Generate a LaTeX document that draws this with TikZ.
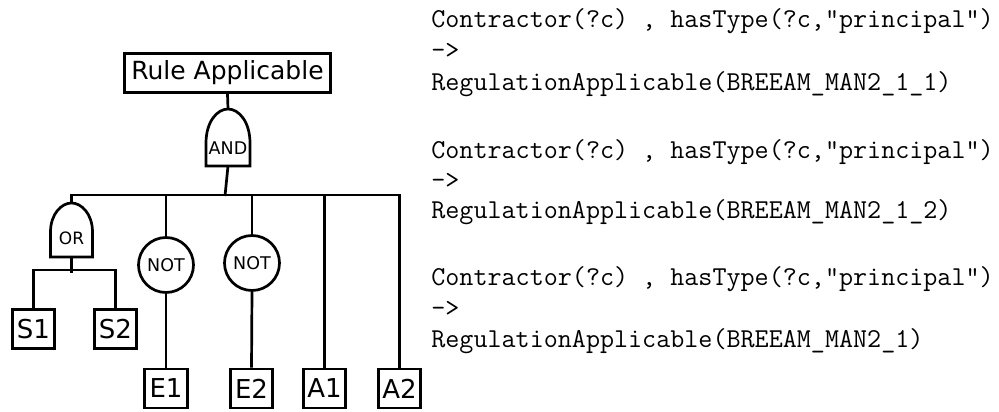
\documentclass[tikz,border=0pt]{standalone}
\usepackage{fontspec}
\setsansfont{DejaVu Sans}
\usetikzlibrary{calc}
\begin{document}
\begin{tikzpicture}[x=1pt,y=-1pt,line width=2.7pt,
  rbox/.style={draw,rectangle,inner sep=0pt,minimum width=206pt,minimum height=39.5pt,font=\fontsize{25}{28}\sffamily},
  lbox/.style={draw,rectangle,inner sep=0pt,minimum width=42.5pt,minimum height=39pt,font=\fontsize{26}{28}\sffamily},
  notgate/.style={draw,circle,inner sep=0pt,minimum size=55pt,font=\fontsize{17.5}{19}\sffamily},
  gatelbl/.style={inner sep=0pt,font=\fontsize{17.5}{19}\sffamily},
  orlbl/.style={inner sep=0pt,font=\fontsize{17}{18}\sffamily},
  code/.style={anchor=base west,inner sep=0pt,font=\fontsize{27.3}{30}\ttfamily}]
\useasboundingbox (0,0) rectangle (999,412);

% top box
\node[rbox] (ra) at (227.5,73) {Rule Applicable};

% AND gate
\node[gatelbl] (and) at (228,148) {AND};
\draw ($(and)+(-22,18)$) -- ($(and)+(-22,-5)$)
  .. controls ($(and)+(-22,-26)$) and ($(and)+(-11,-39)$) .. ($(and)+(0,-39)$)
  .. controls ($(and)+(11,-39)$) and ($(and)+(22,-26)$) .. ($(and)+(22,-5)$)
  -- ($(and)+(22,18)$) -- cycle;
\coordinate (andtop) at ($(and)+(0,-39)$);
\coordinate (andbot) at ($(and)+(0,18)$);

% OR gate
\node[orlbl] (or) at (71.5,238) {OR};
\draw ($(or)+(-21,19)$) -- ($(or)+(-21,-6)$)
  .. controls ($(or)+(-21,-24)$) and ($(or)+(-10,-35)$) .. ($(or)+(0,-35)$)
  .. controls ($(or)+(10,-35)$) and ($(or)+(21,-24)$) .. ($(or)+(21,-6)$)
  -- ($(or)+(21,19)$) -- cycle;
\coordinate (ortop) at ($(or)+(0,-35)$);
\coordinate (orbot) at ($(or)+(0,19)$);

% NOT gates
\node[notgate] (not1) at (166,265) {NOT};
\node[notgate] (not2) at (252,263) {NOT};

% leaves
\node[lbox] (s1) at (33.5,329) {S1};
\node[lbox] (s2) at (115.5,329) {S2};
\node[lbox] (e1) at (166,388.5) {E1};
\node[lbox] (e2) at (251.5,388.5) {E2};
\node[lbox] (a1) at (324.5,388.5) {A1};
\node[lbox] (a2) at (399.5,388.5) {A2};

% connectors
\coordinate (busR) at (399.5,195);
\coordinate (busJ) at (225,196);
\coordinate (sub) at (71.5,270);
\draw (ra.south) -- (andtop);
\draw (andbot) -- (busJ);
\draw (ortop) |- (busR) -- (a2.north);
\draw (not1.north) -- (not1.north |- busR);
\draw (not2.north) -- (not2.north |- busR);
\draw (a1.north) -- (a1.north |- busR);
\draw (not1.south) -- (e1.north);
\draw (not2.south) -- (e2.north);
\draw (s1.north) |- (sub) -| (s2.north);
\draw (orbot) -- ($(sub)+(0,3)$);

% rules text
\node[code] (c1) at (430,28) {Contractor(?c) , hasType(?c,"principal")};
\node[code] (c2) at (430,59) {->};
\node[code] (c3) at (430,90) {RegulationApplicable(BREEAM\_MAN2\_1\_1)};
\node[code] (c4) at (430,158) {Contractor(?c) , hasType(?c,"principal")};
\node[code] (c5) at (430,188) {->};
\node[code] (c6) at (430,218) {RegulationApplicable(BREEAM\_MAN2\_1\_2)};
\node[code] (c7) at (430,285) {Contractor(?c) , hasType(?c,"principal")};
\node[code] (c8) at (430,316) {->};
\node[code] (c9) at (430,347) {RegulationApplicable(BREEAM\_MAN2\_1)};
\end{tikzpicture}
\end{document}
